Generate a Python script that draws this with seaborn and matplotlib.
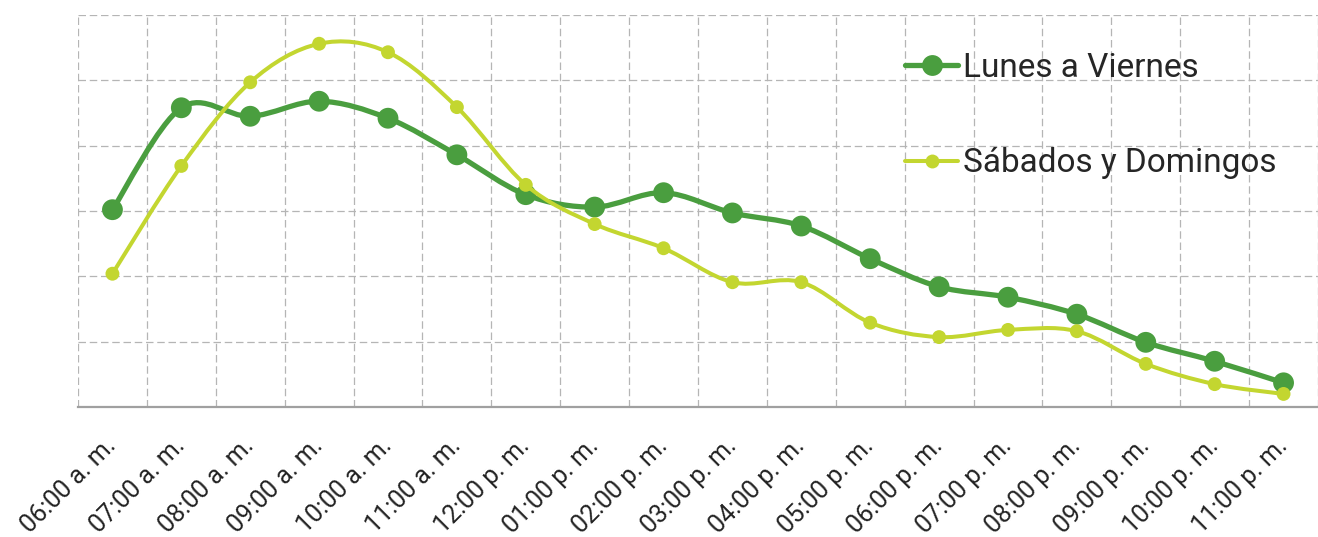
import numpy as np
import pandas as pd
import seaborn as sns
import matplotlib.pyplot as plt
from matplotlib.path import Path
from matplotlib.patches import PathPatch
from matplotlib.lines import Line2D

horas = ['06:00 a. m.', '07:00 a. m.', '08:00 a. m.', '09:00 a. m.', '10:00 a. m.', '11:00 a. m.',
         '12:00 p. m.', '01:00 p. m.', '02:00 p. m.', '03:00 p. m.', '04:00 p. m.', '05:00 p. m.',
         '06:00 p. m.', '07:00 p. m.', '08:00 p. m.', '09:00 p. m.', '10:00 p. m.', '11:00 p. m.']
lunes_viernes = [3.02, 4.58, 4.45, 4.68, 4.42, 3.86, 3.25, 3.06, 3.28, 2.97, 2.77, 2.27,
                 1.84, 1.68, 1.42, 0.99, 0.70, 0.37]
sabados_domingos = [2.04, 3.69, 4.97, 5.56, 5.43, 4.59, 3.40, 2.80, 2.43, 1.91, 1.91, 1.29,
                    1.07, 1.18, 1.16, 0.66, 0.35, 0.20]

series = ['Lunes a Viernes', 'Sábados y Domingos']
colores = {'Lunes a Viernes': '#4a9e3f', 'Sábados y Domingos': '#c3d630'}

df = pd.DataFrame({
    'hora': list(range(len(horas))) * 2,
    'valor': lunes_viernes + sabados_domingos,
    'serie': [series[0]] * len(horas) + [series[1]] * len(horas),
})

sns.set_style('white')
plt.rcParams['font.family'] = ['Roboto', 'DejaVu Sans']

fig = plt.figure(figsize=(13.18, 5.37), dpi=100)
ax = fig.add_axes([78 / 1318, 1 - 407 / 537, 1 - 78 / 1318, (407 - 15) / 537])


def smooth_path(xs, ys):
    # catmull-rom style bezier through the points
    pts = np.column_stack([xs, ys]).astype(float)
    verts = [pts[0]]
    codes = [Path.MOVETO]
    n = len(pts)
    for i in range(n - 1):
        p0 = pts[i - 1] if i > 0 else pts[i]
        p1 = pts[i]
        p2 = pts[i + 1]
        p3 = pts[i + 2] if i + 2 < n else pts[i + 1]
        c1 = p1 + (p2 - p0) / 6
        c2 = p2 - (p3 - p1) / 6
        verts += [c1, c2, p2]
        codes += [Path.CURVE4] * 3
    return Path(verts, codes)


estilos = {'Lunes a Viernes': (3.8, 15, 2), 'Sábados y Domingos': (2.9, 10, 3)}
for s in series:
    sub = df[df['serie'] == s]
    lw, ms, z = estilos[s]
    ax.add_patch(PathPatch(smooth_path(sub['hora'], sub['valor']), fill=False,
                           edgecolor=colores[s], lw=lw, zorder=z, capstyle='round'))
    sns.scatterplot(data=sub, x='hora', y='valor', color=colores[s], s=ms ** 2,
                    edgecolor='none', ax=ax, zorder=z + 0.5, legend=False)

ax.set_xlim(-0.5, 17.1)
ax.set_ylim(0, 6)
ax.set_xlabel('')
ax.set_ylabel('')

ax.set_xticks(range(len(horas)))
ax.set_xticklabels(horas, rotation=45, ha='right', va='center', rotation_mode='anchor',
                   fontsize=18, color='#222222')
ax.set_xticks(np.arange(-0.5, len(horas), 1), minor=True)
ax.tick_params(axis='x', which='major', length=0, pad=25)
ax.tick_params(axis='x', which='minor', length=7, width=1.2, color='#9a9a9a', direction='out')
ax.set_yticks(range(0, 7))
ax.tick_params(axis='y', length=0, labelleft=False)

ax.grid(False)
ax.grid(True, which='minor', axis='x', color='#b5b5b5', ls=(0, (6, 3)), lw=0.9)
ax.grid(True, which='major', axis='y', color='#b5b5b5', ls=(0, (6, 3)), lw=0.9)
for side in ['top', 'right', 'left']:
    ax.spines[side].set_visible(False)
ax.spines['bottom'].set_color('#a0a0a0')
ax.spines['bottom'].set_linewidth(1.6)

handles = [Line2D([], [], color=colores[s], lw=estilos[s][0], marker='o',
                  markersize=estilos[s][1], markeredgewidth=0) for s in series]
fig.legend(handles, series, loc='upper left', bbox_to_anchor=(905 / 1318, 1 - 52 / 537),
           frameon=False, fontsize=24, handlelength=1.6, handletextpad=0.15,
           labelspacing=1.9, borderpad=0, borderaxespad=0)

fig.savefig('out.png', dpi=100)
